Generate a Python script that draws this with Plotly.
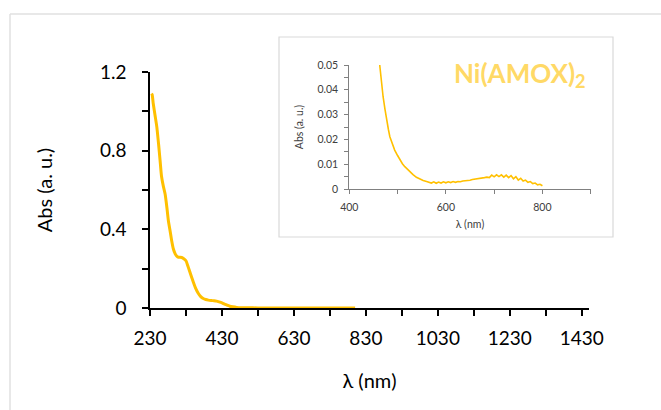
import plotly.graph_objects as go

# ---- main spectrum ----
lam_main = [234, 236, 239, 244, 249, 254, 258, 262, 267, 272, 277, 281, 286, 290, 295, 300,
            305, 309, 314, 318, 323, 330, 335, 339, 345, 350, 357, 364, 371, 378, 385, 392,
            400, 408, 415, 422, 430, 437, 445, 452, 460, 471, 485, 500, 530, 600, 700, 800]
abs_main = [1.09, 1.085, 1.04, 0.98, 0.92, 0.83, 0.75, 0.67, 0.62, 0.58, 0.51, 0.445, 0.39, 0.345, 0.30, 0.275,
            0.262, 0.258, 0.258, 0.257, 0.252, 0.24, 0.215, 0.193, 0.16, 0.134, 0.10, 0.075, 0.058, 0.048, 0.043, 0.040,
            0.038, 0.037, 0.035, 0.031, 0.026, 0.020, 0.014, 0.009, 0.006, 0.003, 0.0015, 0.001, 0.0005, 0.0003, 0.0004, 0.0002]

# ---- inset (zoomed 400-900 nm) ----
lam_in = [463, 466, 470, 474, 477, 481, 484, 489, 494, 500, 505, 510, 515, 520, 526, 532, 539, 546, 553, 560, 567,
          570, 575, 580, 585, 590, 595, 600, 605, 610, 615, 620, 625, 630, 635, 640, 645, 650, 655, 660, 665,
          670, 675, 680, 685, 690, 695, 700, 705, 710, 715, 720, 725, 730, 735, 740, 745, 750, 755, 760, 765,
          770, 775, 780, 785, 790, 795, 800]
abs_in = [0.05, 0.043, 0.0372, 0.032, 0.0278, 0.024, 0.0211, 0.018, 0.0157, 0.0135, 0.0117, 0.0102, 0.009, 0.008,
          0.007, 0.0058, 0.0047, 0.004, 0.0034, 0.003, 0.0027,
          0.0024, 0.0029, 0.0023, 0.0028, 0.0024, 0.0029, 0.0025, 0.0029, 0.0026, 0.0030, 0.0027, 0.0030, 0.0029,
          0.0032, 0.0032, 0.0035, 0.0035, 0.0038, 0.0039, 0.0041, 0.0043, 0.0045, 0.0046, 0.0048, 0.0046, 0.0056,
          0.0049, 0.0057, 0.0050, 0.0057, 0.0048, 0.0056, 0.0046, 0.0054, 0.0041, 0.0050, 0.0036, 0.0043, 0.0032,
          0.0036, 0.0027, 0.0030, 0.0022, 0.0024, 0.0017, 0.0019, 0.0013]

main_xticks = [230, 330, 430, 530, 630, 730, 830, 930, 1030, 1130, 1230, 1330, 1430]
main_xlabels = ["230", " ", "430", " ", "630", " ", "830", " ", "1030", " ", "1230", " ", "1430"]
main_yticks = [0, 0.2, 0.4, 0.6, 0.8, 1.0, 1.2]
main_ylabels = ["0", " ", "0.4", " ", "0.8", " ", "1.2"]
in_xticks = [400, 500, 600, 700, 800, 900]
in_xlabels = ["400", " ", "600", " ", "800", " "]
in_yticks = [0, 0.005, 0.01, 0.015, 0.02, 0.025, 0.03, 0.035, 0.04, 0.045, 0.05]
in_ylabels = ["0", " ", "0.01", " ", "0.02", " ", "0.03", " ", "0.04", " ", "0.05"]

LINE = "#FFC000"
FONT = "Lato"

# pixel geometry helpers
L, R, T, B = 150, 40, 60, 102
W, H = 661, 410
PW, PH = W - L - R, H - T - B
def px(x): return (x - L) / PW
def py(y): return (H - B - y) / PH

fig = go.Figure()
fig.add_trace(go.Scatter(x=lam_main, y=abs_main, mode="lines",
                         line=dict(color=LINE, width=3, shape="spline", smoothing=0.5),
                         xaxis="x", yaxis="y", showlegend=False, hoverinfo="skip"))
fig.add_trace(go.Scatter(x=lam_in, y=abs_in, mode="lines",
                         line=dict(color=LINE, width=1.6),
                         xaxis="x2", yaxis="y2", showlegend=False, hoverinfo="skip"))

fig.update_layout(
    width=W, height=H,
    margin=dict(l=L, r=R, t=T, b=B),
    paper_bgcolor="white", plot_bgcolor="rgba(0,0,0,0)",
    font=dict(family=FONT, color="#000000"),
    xaxis=dict(domain=[0, px(589)], range=[230, 1450], tickvals=main_xticks, ticktext=main_xlabels,
               showline=True, linecolor="#000000", linewidth=1.5, ticks="outside", ticklen=6,
               tickcolor="#000000", tickwidth=1.5, tickfont=dict(size=19), showgrid=False, zeroline=False,
               ticklabelstandoff=6,
               title=dict(text="λ (nm)", font=dict(size=20), standoff=26)),
    yaxis=dict(domain=[0, py(72)], range=[0, 1.2], tickvals=main_yticks, ticktext=main_ylabels,
               showline=True, linecolor="#000000", linewidth=1.5, ticks="outside", ticklen=6,
               tickcolor="#000000", tickwidth=1.5, tickfont=dict(size=19), showgrid=False, zeroline=False,
               ticklabelstandoff=12,
               title=dict(text="Abs (a. u.)", font=dict(size=20), standoff=42)),
    xaxis2=dict(domain=[px(349.3), px(590.7)], range=[400, 900], anchor="y2",
                tickvals=in_xticks, ticktext=in_xlabels,
                showline=True, linecolor="#808080", linewidth=1, ticks="outside", ticklen=4,
                tickcolor="#808080", tickfont=dict(size=10.5, color="#404040"), showgrid=False, zeroline=False,
                ticklabelstandoff=4,
                title=dict(text="λ (nm)", font=dict(size=10.5, color="#404040"), standoff=9)),
    yaxis2=dict(domain=[py(189), py(65)], range=[0, 0.05], anchor="x2",
                tickvals=in_yticks, ticktext=in_ylabels,
                showline=True, linecolor="#808080", linewidth=1, ticks="outside", ticklen=4,
                tickcolor="#808080", tickfont=dict(size=10.5, color="#404040"), showgrid=False, zeroline=False,
                ticklabelstandoff=4,
                title=dict(text="Abs (a. u.)", font=dict(size=10.5, color="#404040"), standoff=11)),
    shapes=[
        dict(type="rect", xref="paper", yref="paper", x0=px(279), x1=px(613), y0=py(237), y1=py(37),
             line=dict(color="#D9D9D9", width=1.2), fillcolor="white", layer="below"),
        dict(type="line", xref="paper", yref="paper", x0=px(10), x1=px(661), y0=py(14), y1=py(14),
             line=dict(color="#E0E0E0", width=1.5)),
        dict(type="line", xref="paper", yref="paper", x0=px(10), x1=px(10), y0=py(14), y1=py(410),
             line=dict(color="#E0E0E0", width=1.5)),
    ],
    annotations=[
        dict(text="<b>Ni(AMOX)<sub>2</sub></b>", xref="paper", yref="paper", x=px(452), y=py(55),
             xanchor="left", yanchor="top", showarrow=False,
             font=dict(size=26, color="#FFD966", family=FONT)),
    ],
)

fig.write_html("out.html")
